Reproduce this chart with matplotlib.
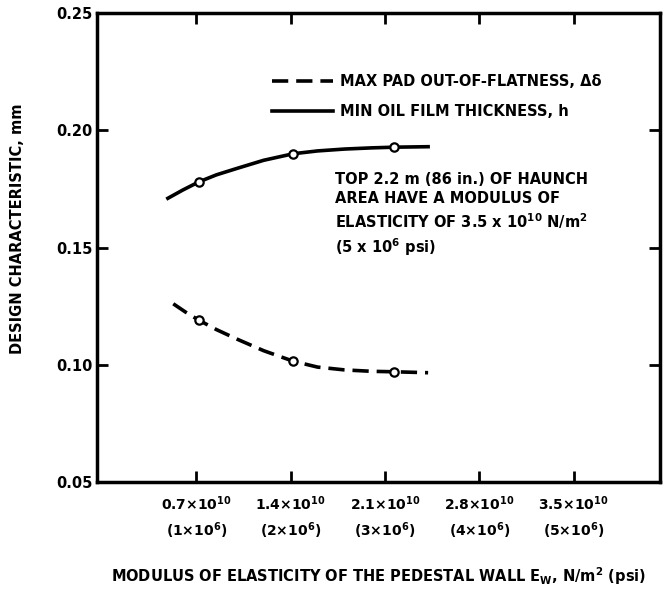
import numpy as np
import matplotlib
matplotlib.use("Agg")
import matplotlib.pyplot as plt

plt.rcParams['font.family'] = ['DejaVu Sans']
plt.rcParams['font.weight'] = 'bold'
plt.rcParams['axes.labelweight'] = 'bold'
plt.rcParams['mathtext.default'] = 'bf'

# Lecturas de la figura (E en unidades de 1e10 N/m^2)
x_espesor = [0.49, 0.6, 0.72, 0.85, 1.0, 1.2, 1.42, 1.6, 1.8, 2.0, 2.17, 2.42]
y_espesor = [0.171, 0.1745, 0.178, 0.181, 0.1837, 0.1872, 0.190, 0.1912,
             0.192, 0.1925, 0.1928, 0.193]

x_planitud = [0.53, 0.62, 0.72, 0.85, 1.0, 1.2, 1.42, 1.6, 1.8, 2.0, 2.17, 2.42]
y_planitud = [0.126, 0.1225, 0.119, 0.115, 0.111, 0.106, 0.1015, 0.099,
              0.0978, 0.0972, 0.097, 0.0966]

# puntos medidos (circulos)
x_medidos = [0.72, 1.42, 2.17]
y_esp_medidos = [0.178, 0.190, 0.1928]
y_plan_medidos = [0.119, 0.1015, 0.097]

xticks = [0.7, 1.4, 2.1, 2.8, 3.5]
xtick_labels = ['0.7×10$^{10}$\n(1×10$^6$)', '1.4×10$^{10}$\n(2×10$^6$)',
                '2.1×10$^{10}$\n(3×10$^6$)', '2.8×10$^{10}$\n(4×10$^6$)',
                '3.5×10$^{10}$\n(5×10$^6$)']
yticks = [0.05, 0.10, 0.15, 0.20, 0.25]
ytick_labels = ['0.05', '0.10', '0.15', '0.20', '0.25']

fs = 10.5

fig = plt.figure(figsize=(6.65, 5.94), dpi=100)
ax = fig.add_axes([0.146, 0.1886, 0.8465, 0.7894])

ax.plot(x_planitud, y_planitud, color='black', lw=2.6, ls=(0, (4.5, 2.2)),
        solid_joinstyle='round', label='MAX PAD OUT-OF-FLATNESS, Δδ')
ax.plot(x_espesor, y_espesor, color='black', lw=2.6, ls='-',
        solid_joinstyle='round', label='MIN OIL FILM THICKNESS, h')
ax.plot(x_medidos, y_esp_medidos, 'o', ms=6, mfc='white', mec='black', mew=1.6)
ax.plot(x_medidos, y_plan_medidos, 'o', ms=6, mfc='white', mec='black', mew=1.6)

ax.set_xlim(-0.035, 4.14)
ax.set_ylim(0.05, 0.25)
ax.set_xticks(xticks)
ax.set_xticklabels(xtick_labels, fontsize=fs - 0.5, linespacing=1.5)
ax.set_yticks(yticks)
ax.set_yticklabels(ytick_labels, fontsize=fs)
ax.tick_params(direction='in', length=8, width=2, top=True, right=True)
ax.tick_params(axis='y', pad=3)
ax.tick_params(axis='x', pad=9)
for s in ax.spines.values():
    s.set_linewidth(2.5)

ax.set_ylabel('DESIGN CHARACTERISTIC, mm', fontsize=fs)
ax.yaxis.set_label_coords(-0.128, 0.54)
ax.set_xlabel('MODULUS OF ELASTICITY OF THE PEDESTAL WALL E$_W$, N/m$^2$ (psi)',
              fontsize=fs, labelpad=17)

ax.legend(loc='upper left', bbox_to_anchor=(0.298, 0.885), frameon=False,
          fontsize=fs, handlelength=4.2, handletextpad=0.45, labelspacing=1.0,
          borderpad=0)

ax.text(0.423, 0.66, 'TOP 2.2 m (86 in.) OF HAUNCH\nAREA HAVE A MODULUS OF\n'
        'ELASTICITY OF 3.5 x 10$^{10}$ N/m$^2$\n(5 x 10$^6$ psi)',
        transform=ax.transAxes, fontsize=fs, va='top', ha='left', linespacing=1.3)

fig.savefig('out.png', dpi=100)
